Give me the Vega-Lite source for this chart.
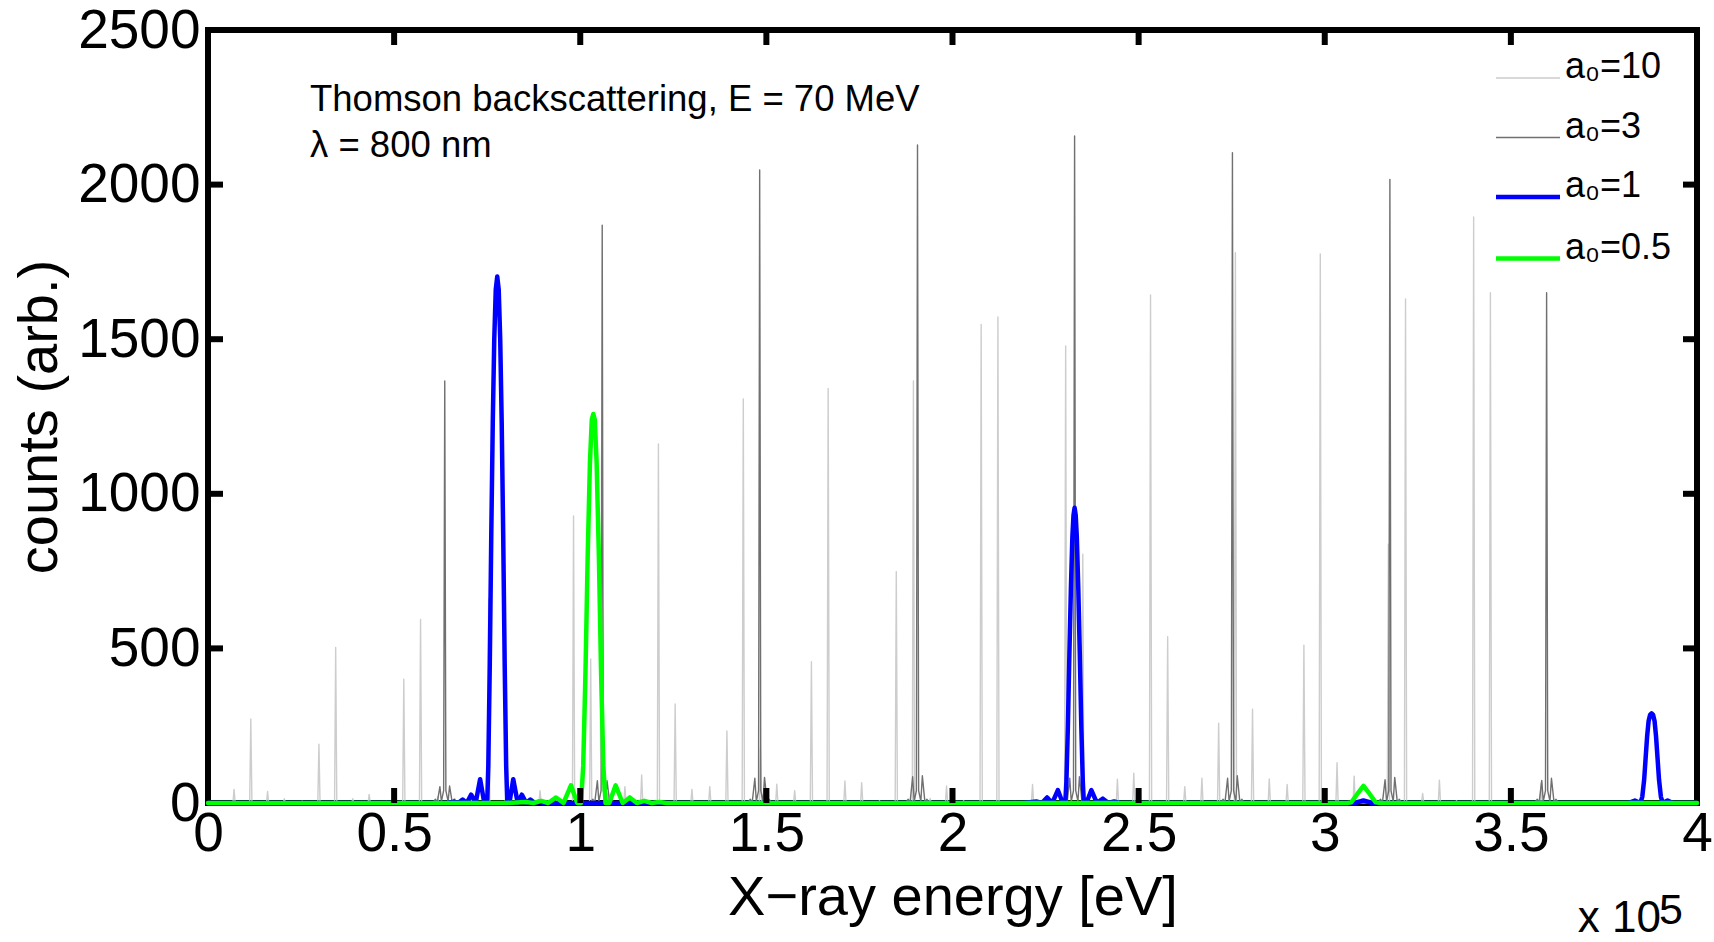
{
"$schema": "https://vega.github.io/schema/vega-lite/v6.json",
"width": 1489, "height": 773,
"autosize": {"type": "none"},
"padding": {"left": 208, "top": 30, "right": 17, "bottom": 139},
"background": "white",
"config": {
  "font": "Liberation Sans",
  "view": {"stroke": "black", "strokeWidth": 6},
  "axis": {"grid": false, "domain": false, "labelFont": "Liberation Sans", "titleFont": "Liberation Sans", "labelColor": "black", "titleColor": "black", "labelFontSize": 55, "titleFontSize": 56, "titleFontWeight": "normal", "labelFlush": false, "labelOverlap": false},
  "legend": {"orient": "none", "legendX": 1302, "legendY": 30, "symbolType": "stroke", "symbolSize": 4096, "labelFontSize": 36, "labelFont": "Liberation Sans", "labelColor": "black", "labelOffset": 19, "rowPadding": 23.5, "padding": 0, "labelBaseline": "alphabetic", "symbolOpacity": 1}
},
"datasets": {
"spec": [
{"s":"10","x":0,"y":0},
{"s":"10","x":0.067,"y":0},{"s":"10","x":0.070,"y":44},{"s":"10","x":0.073,"y":0},
{"s":"10","x":0.112,"y":0},{"s":"10","x":0.115,"y":272},{"s":"10","x":0.118,"y":0},
{"s":"10","x":0.157,"y":0},{"s":"10","x":0.160,"y":37},{"s":"10","x":0.163,"y":0},
{"s":"10","x":0.202,"y":0},{"s":"10","x":0.205,"y":14},{"s":"10","x":0.208,"y":0},
{"s":"10","x":0.250,"y":0},{"s":"10","x":0.253,"y":6},{"s":"10","x":0.256,"y":0},
{"s":"10","x":0.295,"y":0},{"s":"10","x":0.298,"y":190},{"s":"10","x":0.301,"y":0},
{"s":"10","x":0.340,"y":0},{"s":"10","x":0.343,"y":503},{"s":"10","x":0.346,"y":0},
{"s":"10","x":0.386,"y":0},{"s":"10","x":0.389,"y":14},{"s":"10","x":0.392,"y":0},
{"s":"10","x":0.430,"y":0},{"s":"10","x":0.433,"y":28},{"s":"10","x":0.436,"y":0},
{"s":"10","x":0.477,"y":0},{"s":"10","x":0.480,"y":5},{"s":"10","x":0.483,"y":0},
{"s":"10","x":0.523,"y":0},{"s":"10","x":0.526,"y":400},{"s":"10","x":0.529,"y":0},
{"s":"10","x":0.568,"y":0},{"s":"10","x":0.571,"y":594},{"s":"10","x":0.574,"y":0},
{"s":"10","x":0.614,"y":0},{"s":"10","x":0.617,"y":20},{"s":"10","x":0.620,"y":0},
{"s":"10","x":0.660,"y":0},{"s":"10","x":0.663,"y":15},{"s":"10","x":0.666,"y":0},
{"s":"10","x":0.705,"y":0},{"s":"10","x":0.708,"y":10},{"s":"10","x":0.711,"y":0},
{"s":"10","x":0.751,"y":0},{"s":"10","x":0.754,"y":660},{"s":"10","x":0.757,"y":0},
{"s":"10","x":0.797,"y":0},{"s":"10","x":0.800,"y":15},{"s":"10","x":0.803,"y":0},
{"s":"10","x":0.842,"y":0},{"s":"10","x":0.845,"y":10},{"s":"10","x":0.848,"y":0},
{"s":"10","x":0.889,"y":0},{"s":"10","x":0.892,"y":40},{"s":"10","x":0.895,"y":0},
{"s":"10","x":0.934,"y":0},{"s":"10","x":0.937,"y":15},{"s":"10","x":0.940,"y":0},
{"s":"10","x":0.979,"y":0},{"s":"10","x":0.982,"y":928},{"s":"10","x":0.985,"y":0},
{"s":"10","x":1.025,"y":0},{"s":"10","x":1.028,"y":466},{"s":"10","x":1.031,"y":0},
{"s":"10","x":1.071,"y":0},{"s":"10","x":1.074,"y":30},{"s":"10","x":1.077,"y":0},
{"s":"10","x":1.117,"y":0},{"s":"10","x":1.120,"y":53},{"s":"10","x":1.123,"y":0},
{"s":"10","x":1.162,"y":0},{"s":"10","x":1.165,"y":91},{"s":"10","x":1.168,"y":0},
{"s":"10","x":1.207,"y":0},{"s":"10","x":1.210,"y":1161},{"s":"10","x":1.213,"y":0},
{"s":"10","x":1.252,"y":0},{"s":"10","x":1.255,"y":320},{"s":"10","x":1.258,"y":0},
{"s":"10","x":1.297,"y":0},{"s":"10","x":1.300,"y":44},{"s":"10","x":1.303,"y":0},
{"s":"10","x":1.345,"y":0},{"s":"10","x":1.348,"y":53},{"s":"10","x":1.351,"y":0},
{"s":"10","x":1.391,"y":0},{"s":"10","x":1.394,"y":233},{"s":"10","x":1.397,"y":0},
{"s":"10","x":1.435,"y":0},{"s":"10","x":1.438,"y":1307},{"s":"10","x":1.441,"y":0},
{"s":"10","x":1.481,"y":0},{"s":"10","x":1.484,"y":179},{"s":"10","x":1.487,"y":0},
{"s":"10","x":1.525,"y":0},{"s":"10","x":1.528,"y":61},{"s":"10","x":1.531,"y":0},
{"s":"10","x":1.573,"y":0},{"s":"10","x":1.576,"y":40},{"s":"10","x":1.579,"y":0},
{"s":"10","x":1.618,"y":0},{"s":"10","x":1.621,"y":457},{"s":"10","x":1.624,"y":0},
{"s":"10","x":1.663,"y":0},{"s":"10","x":1.666,"y":1341},{"s":"10","x":1.669,"y":0},
{"s":"10","x":1.708,"y":0},{"s":"10","x":1.711,"y":71},{"s":"10","x":1.714,"y":0},
{"s":"10","x":1.753,"y":0},{"s":"10","x":1.756,"y":66},{"s":"10","x":1.759,"y":0},
{"s":"10","x":1.801,"y":0},{"s":"10","x":1.804,"y":8},{"s":"10","x":1.807,"y":0},
{"s":"10","x":1.846,"y":0},{"s":"10","x":1.849,"y":748},{"s":"10","x":1.852,"y":0},
{"s":"10","x":1.892,"y":0},{"s":"10","x":1.895,"y":1365},{"s":"10","x":1.898,"y":0},
{"s":"10","x":1.937,"y":0},{"s":"10","x":1.940,"y":15},{"s":"10","x":1.943,"y":0},
{"s":"10","x":1.981,"y":0},{"s":"10","x":1.984,"y":55},{"s":"10","x":1.987,"y":0},
{"s":"10","x":2.027,"y":0},{"s":"10","x":2.030,"y":8},{"s":"10","x":2.033,"y":0},
{"s":"10","x":2.074,"y":0},{"s":"10","x":2.077,"y":1548},{"s":"10","x":2.080,"y":0},
{"s":"10","x":2.119,"y":0},{"s":"10","x":2.122,"y":1572},{"s":"10","x":2.125,"y":0},
{"s":"10","x":2.165,"y":0},{"s":"10","x":2.168,"y":5},{"s":"10","x":2.171,"y":0},
{"s":"10","x":2.212,"y":0},{"s":"10","x":2.215,"y":60},{"s":"10","x":2.218,"y":0},
{"s":"10","x":2.257,"y":0},{"s":"10","x":2.260,"y":20},{"s":"10","x":2.263,"y":0},
{"s":"10","x":2.301,"y":0},{"s":"10","x":2.304,"y":1478},{"s":"10","x":2.307,"y":0},
{"s":"10","x":2.347,"y":0},{"s":"10","x":2.350,"y":805},{"s":"10","x":2.353,"y":0},
{"s":"10","x":2.392,"y":0},{"s":"10","x":2.395,"y":15},{"s":"10","x":2.398,"y":0},
{"s":"10","x":2.440,"y":0},{"s":"10","x":2.443,"y":77},{"s":"10","x":2.446,"y":0},
{"s":"10","x":2.484,"y":0},{"s":"10","x":2.487,"y":96},{"s":"10","x":2.490,"y":0},
{"s":"10","x":2.529,"y":0},{"s":"10","x":2.532,"y":1643},{"s":"10","x":2.535,"y":0},
{"s":"10","x":2.575,"y":0},{"s":"10","x":2.578,"y":538},{"s":"10","x":2.581,"y":0},
{"s":"10","x":2.621,"y":0},{"s":"10","x":2.624,"y":53},{"s":"10","x":2.627,"y":0},
{"s":"10","x":2.667,"y":0},{"s":"10","x":2.670,"y":80},{"s":"10","x":2.673,"y":0},
{"s":"10","x":2.712,"y":0},{"s":"10","x":2.715,"y":258},{"s":"10","x":2.718,"y":0},
{"s":"10","x":2.757,"y":0},{"s":"10","x":2.760,"y":1780},{"s":"10","x":2.763,"y":0},
{"s":"10","x":2.803,"y":0},{"s":"10","x":2.806,"y":303},{"s":"10","x":2.809,"y":0},
{"s":"10","x":2.848,"y":0},{"s":"10","x":2.851,"y":78},{"s":"10","x":2.854,"y":0},
{"s":"10","x":2.896,"y":0},{"s":"10","x":2.899,"y":60},{"s":"10","x":2.902,"y":0},
{"s":"10","x":2.941,"y":0},{"s":"10","x":2.944,"y":510},{"s":"10","x":2.947,"y":0},
{"s":"10","x":2.985,"y":0},{"s":"10","x":2.988,"y":1776},{"s":"10","x":2.991,"y":0},
{"s":"10","x":3.030,"y":0},{"s":"10","x":3.033,"y":130},{"s":"10","x":3.036,"y":0},
{"s":"10","x":3.076,"y":0},{"s":"10","x":3.079,"y":87},{"s":"10","x":3.082,"y":0},
{"s":"10","x":3.122,"y":0},{"s":"10","x":3.125,"y":10},{"s":"10","x":3.128,"y":0},
{"s":"10","x":3.168,"y":0},{"s":"10","x":3.171,"y":837},{"s":"10","x":3.174,"y":0},
{"s":"10","x":3.214,"y":0},{"s":"10","x":3.217,"y":1630},{"s":"10","x":3.220,"y":0},
{"s":"10","x":3.260,"y":0},{"s":"10","x":3.263,"y":31},{"s":"10","x":3.266,"y":0},
{"s":"10","x":3.305,"y":0},{"s":"10","x":3.308,"y":74},{"s":"10","x":3.311,"y":0},
{"s":"10","x":3.351,"y":0},{"s":"10","x":3.354,"y":8},{"s":"10","x":3.357,"y":0},
{"s":"10","x":3.397,"y":0},{"s":"10","x":3.400,"y":1895},{"s":"10","x":3.403,"y":0},
{"s":"10","x":3.442,"y":0},{"s":"10","x":3.445,"y":1650},{"s":"10","x":3.448,"y":0},
{"s":"10","x":3.487,"y":0},{"s":"10","x":3.490,"y":5},{"s":"10","x":3.493,"y":0},
{"s":"10","x":3.532,"y":0},{"s":"10","x":3.535,"y":5},{"s":"10","x":3.538,"y":0},
{"s":"10","x":3.578,"y":0},{"s":"10","x":3.581,"y":64},{"s":"10","x":3.584,"y":0},
{"s":"10","x":4,"y":0},

{"s":"3","x":0,"y":0},
{"s":"3","x":0.591,"y":0},{"s":"3","x":0.606,"y":4},{"s":"3","x":0.611,"y":12},{"s":"3","x":0.616,"y":2},{"s":"3","x":0.623,"y":53},{"s":"3","x":0.627,"y":5},{"s":"3","x":0.633,"y":40},{"s":"3","x":0.636,"y":1365},{"s":"3","x":0.639,"y":40},{"s":"3","x":0.645,"y":5},{"s":"3","x":0.649,"y":55},{"s":"3","x":0.656,"y":2},{"s":"3","x":0.661,"y":12},{"s":"3","x":0.666,"y":4},{"s":"3","x":0.681,"y":0},
{"s":"3","x":1.014,"y":0},{"s":"3","x":1.029,"y":4},{"s":"3","x":1.034,"y":12},{"s":"3","x":1.039,"y":2},{"s":"3","x":1.046,"y":72},{"s":"3","x":1.050,"y":5},{"s":"3","x":1.056,"y":40},{"s":"3","x":1.059,"y":1869},{"s":"3","x":1.062,"y":40},{"s":"3","x":1.068,"y":5},{"s":"3","x":1.072,"y":72},{"s":"3","x":1.079,"y":2},{"s":"3","x":1.084,"y":12},{"s":"3","x":1.089,"y":4},{"s":"3","x":1.104,"y":0},
{"s":"3","x":1.437,"y":0},{"s":"3","x":1.452,"y":4},{"s":"3","x":1.457,"y":12},{"s":"3","x":1.462,"y":2},{"s":"3","x":1.469,"y":80},{"s":"3","x":1.473,"y":5},{"s":"3","x":1.479,"y":40},{"s":"3","x":1.482,"y":2047},{"s":"3","x":1.485,"y":40},{"s":"3","x":1.491,"y":5},{"s":"3","x":1.495,"y":83},{"s":"3","x":1.502,"y":2},{"s":"3","x":1.507,"y":12},{"s":"3","x":1.512,"y":4},{"s":"3","x":1.527,"y":0},
{"s":"3","x":1.861,"y":0},{"s":"3","x":1.876,"y":4},{"s":"3","x":1.881,"y":12},{"s":"3","x":1.886,"y":2},{"s":"3","x":1.893,"y":85},{"s":"3","x":1.897,"y":5},{"s":"3","x":1.903,"y":40},{"s":"3","x":1.906,"y":2128},{"s":"3","x":1.909,"y":40},{"s":"3","x":1.915,"y":5},{"s":"3","x":1.919,"y":88},{"s":"3","x":1.926,"y":2},{"s":"3","x":1.931,"y":12},{"s":"3","x":1.936,"y":4},{"s":"3","x":1.951,"y":0},
{"s":"3","x":2.283,"y":0},{"s":"3","x":2.298,"y":4},{"s":"3","x":2.303,"y":12},{"s":"3","x":2.308,"y":2},{"s":"3","x":2.315,"y":80},{"s":"3","x":2.319,"y":5},{"s":"3","x":2.325,"y":40},{"s":"3","x":2.328,"y":2157},{"s":"3","x":2.331,"y":40},{"s":"3","x":2.337,"y":5},{"s":"3","x":2.341,"y":85},{"s":"3","x":2.348,"y":2},{"s":"3","x":2.353,"y":12},{"s":"3","x":2.358,"y":4},{"s":"3","x":2.373,"y":0},
{"s":"3","x":2.707,"y":0},{"s":"3","x":2.722,"y":4},{"s":"3","x":2.727,"y":12},{"s":"3","x":2.732,"y":2},{"s":"3","x":2.739,"y":80},{"s":"3","x":2.743,"y":5},{"s":"3","x":2.749,"y":40},{"s":"3","x":2.752,"y":2103},{"s":"3","x":2.755,"y":40},{"s":"3","x":2.761,"y":5},{"s":"3","x":2.765,"y":88},{"s":"3","x":2.772,"y":2},{"s":"3","x":2.777,"y":12},{"s":"3","x":2.782,"y":4},{"s":"3","x":2.797,"y":0},
{"s":"3","x":3.130,"y":0},{"s":"3","x":3.145,"y":4},{"s":"3","x":3.150,"y":12},{"s":"3","x":3.155,"y":2},{"s":"3","x":3.162,"y":75},{"s":"3","x":3.166,"y":5},{"s":"3","x":3.172,"y":40},{"s":"3","x":3.175,"y":2017},{"s":"3","x":3.178,"y":40},{"s":"3","x":3.184,"y":5},{"s":"3","x":3.188,"y":83},{"s":"3","x":3.195,"y":2},{"s":"3","x":3.200,"y":12},{"s":"3","x":3.205,"y":4},{"s":"3","x":3.220,"y":0},
{"s":"3","x":3.551,"y":0},{"s":"3","x":3.566,"y":4},{"s":"3","x":3.571,"y":12},{"s":"3","x":3.576,"y":2},{"s":"3","x":3.583,"y":73},{"s":"3","x":3.587,"y":5},{"s":"3","x":3.593,"y":40},{"s":"3","x":3.596,"y":1650},{"s":"3","x":3.599,"y":40},{"s":"3","x":3.605,"y":5},{"s":"3","x":3.609,"y":80},{"s":"3","x":3.616,"y":2},{"s":"3","x":3.621,"y":12},{"s":"3","x":3.626,"y":4},{"s":"3","x":3.641,"y":0},
{"s":"3","x":4,"y":0},

{"s":"1","x":0,"y":0},{"s":"1","x":0.640,"y":0},{"s":"1","x":0.650,"y":2},{"s":"1","x":0.661,"y":4},{"s":"1","x":0.672,"y":0},{"s":"1","x":0.684,"y":11},{"s":"1","x":0.695,"y":0},{"s":"1","x":0.707,"y":27},{"s":"1","x":0.719,"y":0},{"s":"1","x":0.731,"y":77},{"s":"1","x":0.742,"y":2},{"s":"1","x":0.750,"y":0},
{"s":"1","x":0.753,"y":120},{"s":"1","x":0.757,"y":450},{"s":"1","x":0.761,"y":870},{"s":"1","x":0.765,"y":1230},{"s":"1","x":0.769,"y":1500},{"s":"1","x":0.773,"y":1660},{"s":"1","x":0.777,"y":1703},{"s":"1","x":0.781,"y":1660},{"s":"1","x":0.785,"y":1500},{"s":"1","x":0.789,"y":1230},{"s":"1","x":0.793,"y":870},{"s":"1","x":0.797,"y":450},{"s":"1","x":0.801,"y":120},{"s":"1","x":0.804,"y":0},
{"s":"1","x":0.810,"y":2},{"s":"1","x":0.820,"y":77},{"s":"1","x":0.832,"y":0},{"s":"1","x":0.843,"y":27},{"s":"1","x":0.855,"y":0},{"s":"1","x":0.866,"y":11},{"s":"1","x":0.878,"y":0},{"s":"1","x":0.890,"y":4},{"s":"1","x":0.901,"y":0},{"s":"1","x":0.912,"y":2},{"s":"1","x":0.925,"y":0},
{"s":"1","x":2.190,"y":0},{"s":"1","x":2.225,"y":5},{"s":"1","x":2.240,"y":0},{"s":"1","x":2.254,"y":18},{"s":"1","x":2.268,"y":0},{"s":"1","x":2.283,"y":42},{"s":"1","x":2.296,"y":1},{"s":"1","x":2.303,"y":0},
{"s":"1","x":2.306,"y":70},{"s":"1","x":2.310,"y":250},{"s":"1","x":2.314,"y":480},{"s":"1","x":2.318,"y":690},{"s":"1","x":2.322,"y":860},{"s":"1","x":2.325,"y":930},{"s":"1","x":2.328,"y":955},{"s":"1","x":2.331,"y":930},{"s":"1","x":2.334,"y":860},{"s":"1","x":2.338,"y":690},{"s":"1","x":2.342,"y":480},{"s":"1","x":2.346,"y":250},{"s":"1","x":2.350,"y":70},{"s":"1","x":2.353,"y":0},
{"s":"1","x":2.360,"y":1},{"s":"1","x":2.373,"y":42},{"s":"1","x":2.388,"y":0},{"s":"1","x":2.404,"y":14},{"s":"1","x":2.419,"y":0},{"s":"1","x":2.434,"y":5},{"s":"1","x":2.450,"y":0},
{"s":"1","x":3.080,"y":0},{"s":"1","x":3.104,"y":8},{"s":"1","x":3.128,"y":0},
{"s":"1","x":3.815,"y":0},{"s":"1","x":3.833,"y":8},{"s":"1","x":3.848,"y":0},{"s":"1","x":3.853,"y":20},{"s":"1","x":3.858,"y":75},{"s":"1","x":3.862,"y":145},{"s":"1","x":3.866,"y":215},{"s":"1","x":3.870,"y":265},{"s":"1","x":3.874,"y":285},{"s":"1","x":3.878,"y":290},{"s":"1","x":3.882,"y":285},{"s":"1","x":3.886,"y":265},{"s":"1","x":3.890,"y":215},{"s":"1","x":3.894,"y":145},{"s":"1","x":3.898,"y":75},{"s":"1","x":3.903,"y":20},{"s":"1","x":3.908,"y":0},{"s":"1","x":3.921,"y":8},{"s":"1","x":3.935,"y":0},{"s":"1","x":4,"y":0},

{"s":"0.5","x":0,"y":0},{"s":"0.5","x":0.800,"y":0},{"s":"0.5","x":0.853,"y":3},{"s":"0.5","x":0.874,"y":0},{"s":"0.5","x":0.895,"y":7},{"s":"0.5","x":0.914,"y":0},{"s":"0.5","x":0.935,"y":18},{"s":"0.5","x":0.955,"y":0},{"s":"0.5","x":0.975,"y":57},{"s":"0.5","x":0.992,"y":0},
{"s":"0.5","x":1.002,"y":0},{"s":"0.5","x":1.008,"y":120},{"s":"0.5","x":1.014,"y":420},{"s":"0.5","x":1.020,"y":800},{"s":"0.5","x":1.026,"y":1100},{"s":"0.5","x":1.031,"y":1240},{"s":"0.5","x":1.035,"y":1258},{"s":"0.5","x":1.039,"y":1240},{"s":"0.5","x":1.044,"y":1100},{"s":"0.5","x":1.050,"y":800},{"s":"0.5","x":1.056,"y":420},{"s":"0.5","x":1.062,"y":120},{"s":"0.5","x":1.068,"y":0},
{"s":"0.5","x":1.078,"y":0},{"s":"0.5","x":1.095,"y":57},{"s":"0.5","x":1.114,"y":0},{"s":"0.5","x":1.133,"y":18},{"s":"0.5","x":1.152,"y":0},{"s":"0.5","x":1.172,"y":7},{"s":"0.5","x":1.192,"y":0},{"s":"0.5","x":1.212,"y":3},{"s":"0.5","x":1.232,"y":0},
{"s":"0.5","x":3.060,"y":0},{"s":"0.5","x":3.071,"y":2},{"s":"0.5","x":3.088,"y":30},{"s":"0.5","x":3.104,"y":55},{"s":"0.5","x":3.120,"y":30},{"s":"0.5","x":3.137,"y":2},{"s":"0.5","x":3.150,"y":0},{"s":"0.5","x":4,"y":0}
],
"ann": [
{"x": 0.274, "y": 2238, "t": "Thomson backscattering, E = 70 MeV"},
{"x": 0.274, "y": 2090, "t": "λ = 800 nm"}
],
"mult": [
{"x": 4, "y": 0, "t": "x 10", "e": "5"}
],
"tx": [{"v": 0.5}, {"v": 1}, {"v": 1.5}, {"v": 2}, {"v": 2.5}, {"v": 3}, {"v": 3.5}],
"ty": [{"v": 500}, {"v": 1000}, {"v": 1500}, {"v": 2000}]
},
"layer": [
{
  "data": {"name": "spec"},
  "transform": [{"filter": "datum.s === '10'"}],
  "mark": {"type": "line", "strokeWidth": 1.4, "strokeJoin": "round", "strokeCap": "round"},
  "encoding": {
    "x": {"field": "x", "type": "quantitative", "scale": {"domain": [0, 4], "nice": false, "zero": false},
          "axis": {"orient": "bottom", "values": [0, 0.5, 1, 1.5, 2, 2.5, 3, 3.5, 4], "format": "~g", "title": "X−ray energy [eV]", "ticks": false, "tickSize": 0, "labelPadding": 4, "titlePadding": 9}},
    "y": {"field": "y", "type": "quantitative", "scale": {"domain": [0, 2500], "nice": false, "zero": false},
          "axis": {"orient": "left", "values": [0, 500, 1000, 1500, 2000, 2500], "format": "d", "title": "counts (arb.)", "ticks": false, "tickSize": 0, "labelPadding": 8, "titlePadding": 9}},
    "color": {"field": "s", "type": "nominal", "scale": {"domain": ["10", "3", "1", "0.5"], "range": ["#cdcdcd", "#707070", "#0000ff", "#00ff00"]},
              "legend": {"title": null, "labelExpr": "'a₀=' + datum.label",
                         "encode": {"symbols": {"update": {"strokeWidth": {"signal": "datum.value === '1' || datum.value === '0.5' ? 4.5 : 1.4"}}}}}}
  }
},
{
  "data": {"name": "spec"},
  "transform": [{"filter": "datum.s === '3'"}],
  "mark": {"type": "line", "strokeWidth": 1.4, "strokeJoin": "round", "strokeCap": "round"},
  "encoding": {
    "x": {"field": "x", "type": "quantitative", "scale": {"domain": [0, 4], "nice": false, "zero": false}, "axis": null},
    "y": {"field": "y", "type": "quantitative", "scale": {"domain": [0, 2500], "nice": false, "zero": false}, "axis": null},
    "color": {"field": "s", "type": "nominal"}
  }
},
{
  "data": {"name": "spec"},
  "transform": [{"filter": "datum.s === '1'"}],
  "mark": {"type": "line", "strokeWidth": 4.5, "strokeJoin": "round", "strokeCap": "round"},
  "encoding": {
    "x": {"field": "x", "type": "quantitative", "scale": {"domain": [0, 4], "nice": false, "zero": false}, "axis": null},
    "y": {"field": "y", "type": "quantitative", "scale": {"domain": [0, 2500], "nice": false, "zero": false}, "axis": null},
    "color": {"field": "s", "type": "nominal"}
  }
},
{
  "data": {"name": "spec"},
  "transform": [{"filter": "datum.s === '0.5'"}],
  "mark": {"type": "line", "strokeWidth": 4.5, "strokeJoin": "round", "strokeCap": "round"},
  "encoding": {
    "x": {"field": "x", "type": "quantitative", "scale": {"domain": [0, 4], "nice": false, "zero": false}, "axis": null},
    "y": {"field": "y", "type": "quantitative", "scale": {"domain": [0, 2500], "nice": false, "zero": false}, "axis": null},
    "color": {"field": "s", "type": "nominal"}
  }
},
{
  "data": {"name": "tx"},
  "mark": {"type": "rule", "color": "black", "strokeWidth": 6, "strokeCap": "butt", "y2Offset": -15},
  "encoding": {
    "x": {"field": "v", "type": "quantitative", "scale": {"domain": [0, 4], "nice": false, "zero": false}, "axis": null},
    "y": {"datum": 0, "type": "quantitative", "scale": {"domain": [0, 2500], "nice": false, "zero": false}, "axis": null},
    "y2": {"datum": 0}
  }
},
{
  "data": {"name": "tx"},
  "mark": {"type": "rule", "color": "black", "strokeWidth": 6, "strokeCap": "butt", "y2Offset": 15},
  "encoding": {
    "x": {"field": "v", "type": "quantitative", "scale": {"domain": [0, 4], "nice": false, "zero": false}, "axis": null},
    "y": {"datum": 2500, "type": "quantitative", "scale": {"domain": [0, 2500], "nice": false, "zero": false}, "axis": null},
    "y2": {"datum": 2500}
  }
},
{
  "data": {"name": "ty"},
  "mark": {"type": "rule", "color": "black", "strokeWidth": 6, "strokeCap": "butt", "x2Offset": 15},
  "encoding": {
    "y": {"field": "v", "type": "quantitative", "scale": {"domain": [0, 2500], "nice": false, "zero": false}, "axis": null},
    "x": {"datum": 0, "type": "quantitative", "scale": {"domain": [0, 4], "nice": false, "zero": false}, "axis": null},
    "x2": {"datum": 0}
  }
},
{
  "data": {"name": "ty"},
  "mark": {"type": "rule", "color": "black", "strokeWidth": 6, "strokeCap": "butt", "x2Offset": -14},
  "encoding": {
    "y": {"field": "v", "type": "quantitative", "scale": {"domain": [0, 2500], "nice": false, "zero": false}, "axis": null},
    "x": {"datum": 4, "type": "quantitative", "scale": {"domain": [0, 4], "nice": false, "zero": false}, "axis": null},
    "x2": {"datum": 4}
  }
},
{
  "data": {"name": "ann"},
  "mark": {"type": "text", "align": "left", "baseline": "alphabetic", "fontSize": 36.5, "font": "Liberation Sans", "color": "black"},
  "encoding": {
    "x": {"field": "x", "type": "quantitative", "scale": {"domain": [0, 4], "nice": false, "zero": false}, "axis": null},
    "y": {"field": "y", "type": "quantitative", "scale": {"domain": [0, 2500], "nice": false, "zero": false}, "axis": null},
    "text": {"field": "t"}
  }
},
{
  "data": {"name": "mult"},
  "mark": {"type": "text", "align": "right", "baseline": "alphabetic", "fontSize": 44, "font": "Liberation Sans", "color": "black", "dx": -36, "dy": 129},
  "encoding": {
    "x": {"field": "x", "type": "quantitative", "scale": {"domain": [0, 4], "nice": false, "zero": false}, "axis": null},
    "y": {"field": "y", "type": "quantitative", "scale": {"domain": [0, 2500], "nice": false, "zero": false}, "axis": null},
    "text": {"field": "t"}
  }
},
{
  "data": {"name": "mult"},
  "mark": {"type": "text", "align": "left", "baseline": "alphabetic", "fontSize": 43, "font": "Liberation Sans", "color": "black", "dx": -38, "dy": 121},
  "encoding": {
    "x": {"field": "x", "type": "quantitative", "scale": {"domain": [0, 4], "nice": false, "zero": false}, "axis": null},
    "y": {"field": "y", "type": "quantitative", "scale": {"domain": [0, 2500], "nice": false, "zero": false}, "axis": null},
    "text": {"field": "e"}
  }
}
],
"resolve": {"scale": {"x": "independent", "y": "independent"}, "axis": {"x": "independent", "y": "independent"}}
}
